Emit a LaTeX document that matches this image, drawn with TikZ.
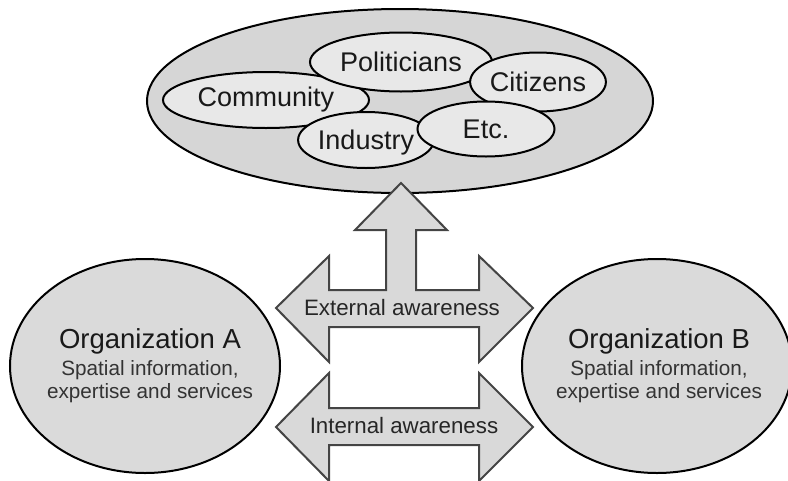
\documentclass[tikz,border=0pt]{standalone}
\usepackage{fontspec}
\setmainfont{Liberation Sans}
\usetikzlibrary{shapes.geometric}
\definecolor{outerfill}{HTML}{D6D6D6}
\definecolor{innerfill}{HTML}{E8E8E8}
\definecolor{orgfill}{HTML}{DADADA}
\definecolor{arrowfill}{HTML}{D9D9D9}
\definecolor{arrowline}{HTML}{444444}
\definecolor{subtext}{HTML}{333333}
\tikzset{
  group/.style={ellipse, draw=black, line width=2pt, fill=innerfill, inner sep=0pt,
    font=\fontsize{27}{30}\selectfont, text=black!90},
  outer/.style={ellipse, draw=black, line width=2pt, fill=outerfill, inner sep=0pt},
  org/.style={ellipse, draw=black, line width=2pt, fill=orgfill, inner sep=0pt},
  orgtitle/.style={anchor=base, inner sep=0pt, font=\fontsize{27.5}{30}\selectfont, text=black!90},
  orgline/.style={anchor=base, inner sep=0pt, font=\fontsize{20.7}{24}\selectfont, text=subtext},
  blockarrow/.style={draw=arrowline, fill=arrowfill, line width=2pt, line join=miter},
  arrowlabel/.style={font=\fontsize{22.3}{26}\selectfont, text=black!85, inner sep=0pt},
}
\begin{document}
\begin{tikzpicture}[x=1pt, y=-1pt]
\useasboundingbox (0,0) rectangle (788,480);

% stakeholder cloud
\node[outer, minimum width=506pt, minimum height=184pt] (society) at (400,101) {};
\node[group, minimum width=206pt, minimum height=56pt] (community) at (266,100) {Community};
\node[group, minimum width=182pt, minimum height=59pt] (politicians) at (401,62) {Politicians};
\node[group, minimum width=133pt, minimum height=59pt] (citizens) at (538,82) {Citizens};
\node[group, minimum width=134pt, minimum height=56pt, text depth=0pt] (industry) at (366,140) {Industry};
\node[group, minimum width=137pt, minimum height=55pt] (etc) at (486,129) {Etc.};

% the two organizations
\node[org, minimum width=270pt, minimum height=214pt] (orgA) at (145,366) {};
\node[org, minimum width=270pt, minimum height=214pt] (orgB) at (657,366) {};
\node[orgtitle] (titleA) at (150,348) {Organization A};
\node[orgline] (subA1) at (150,375) {Spatial information,};
\node[orgline] (subA2) at (150,398) {expertise and services};
\node[orgtitle] (titleB) at (659,348) {Organization B};
\node[orgline] (subB1) at (659,375) {Spatial information,};
\node[orgline] (subB2) at (659,398) {expertise and services};

% external awareness: two-headed arrow with a branch up to the stakeholders
\path[blockarrow] (276,308) -- (329,256) -- (329,290) -- (386,290) -- (386,230)
  -- (355,230) -- (401,183) -- (447,230) -- (416,230) -- (416,290) -- (479,290)
  -- (479,256) -- (533,308) -- (479,362) -- (479,327) -- (329,327) -- (329,362) -- cycle;
\node[arrowlabel] (ext) at (402,307.7) {External awareness};

% internal awareness: two-headed arrow between the organizations
\path[blockarrow] (276,427) -- (329,373) -- (329,408) -- (479,408) -- (479,373)
  -- (533,427) -- (479,481) -- (479,445) -- (329,445) -- (329,481) -- cycle;
\node[arrowlabel] (int) at (404,425.5) {Internal awareness};
\end{tikzpicture}
\end{document}
